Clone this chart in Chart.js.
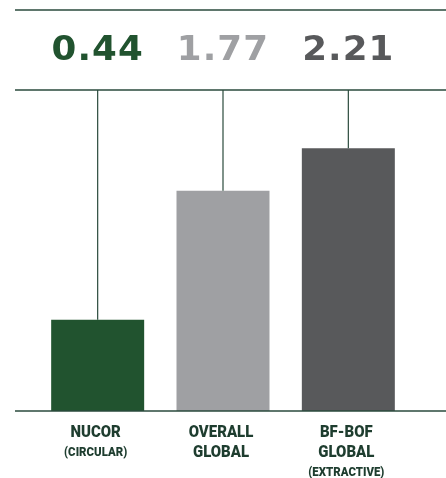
<!DOCTYPE html>
<html>
<head>
<meta charset="utf-8">
<script src="https://cdn.jsdelivr.net/npm/chart.js@4/dist/chart.umd.min.js"></script>
<style>
  html, body { margin: 0; padding: 0; background: #fff; }
  #wrap { width: 446px; height: 478px; }
</style>
</head>
<body>
<div id="wrap"><canvas id="chart10" width="446" height="478"></canvas></div>
<script>
// data
const categorias = ['NUCOR', 'OVERALL GLOBAL', 'BF-BOF GLOBAL']
const etiquetas = [['NUCOR'], ['OVERALL', 'GLOBAL'], ['BF-BOF', 'GLOBAL']]
const subEtiquetas = ['(CIRCULAR)', '', '(EXTRACTIVE)']
const valores = [0.44, 1.77, 2.21]
const valorTextos = ['0.44', '1.77', '2.21']

const colores = ['#21532f', '#9fa0a3', '#58595b']
const lineaColor = '#2a4a3c'
const textoColor = '#1e3d2f'
const yMin = -0.5
const yMax = 2.81

// lines, value text and category labels
const decoraciones = {
    id: 'decoraciones',
    afterDatasetsDraw(chart) {
        const ctx = chart.ctx
        const area = chart.chartArea
        const meta = chart.getDatasetMeta(0)
        ctx.save()

        // horizontal rules
        ctx.strokeStyle = lineaColor
        ctx.lineWidth = 1.5
        ;[10, area.top, area.bottom].forEach(y => {
            ctx.beginPath()
            ctx.moveTo(15, y)
            ctx.lineTo(chart.width, y)
            ctx.stroke()
        })

        // vertical leaders
        ctx.lineWidth = 1.2
        meta.data.forEach(bar => {
            ctx.beginPath()
            ctx.moveTo(bar.x, area.top)
            ctx.lineTo(bar.x, bar.y)
            ctx.stroke()
        })

        // values on top
        ctx.textAlign = 'center'
        ctx.textBaseline = 'middle'
        meta.data.forEach((bar, i) => {
            ctx.save()
            ctx.translate(bar.x, 51)
            ctx.scale(1.08, 1)
            ctx.font = 'bold 33px "DejaVu Sans"'
            ctx.letterSpacing = '1px'
            ctx.fillStyle = colores[i]
            ctx.fillText(valorTextos[i], 0, 0)
            ctx.restore()
        })

        // category labels
        ctx.fillStyle = textoColor
        meta.data.forEach((bar, i) => {
            let y = 433
            etiquetas[i].forEach(t => {
                ctx.save()
                ctx.translate(bar.x - 2, y)
                ctx.scale(0.88, 1)
                ctx.font = '900 17px Roboto'
                ctx.fillText(t, 0, 0)
                ctx.restore()
                y += 20
            })
            if (subEtiquetas[i]) {
                y = y - 1
                ctx.save()
                ctx.translate(bar.x - 2, y + 1)
                ctx.scale(0.88, 1)
                ctx.font = '900 13px Roboto'
                ctx.fillText(subEtiquetas[i], 0, 0)
                ctx.restore()
            }
        })
        ctx.restore()
    }
}

const chart10 = document.getElementById('chart10')
new Chart(chart10.getContext('2d'), {
    type: 'bar',
    data: {
        labels: categorias,
        datasets: [
            {
                label: 'valor',
                data: valores,
                backgroundColor: colores,
                borderWidth: 0,
                base: yMin,
                barPercentage: 0.742,
                categoryPercentage: 1,
            },
        ],
    },
    options: {
        responsive: false,
        animation: false,
        layout: {
            padding: {top: 90, bottom: 67, left: 35, right: 35},
        },
        plugins: {
            legend: {display: false},
            tooltip: {enabled: false},
        },
        scales: {
            x: {display: false},
            y: {display: false, min: yMin, max: yMax},
        },
    },
    plugins: [decoraciones],
});
</script>
</body>
</html>
